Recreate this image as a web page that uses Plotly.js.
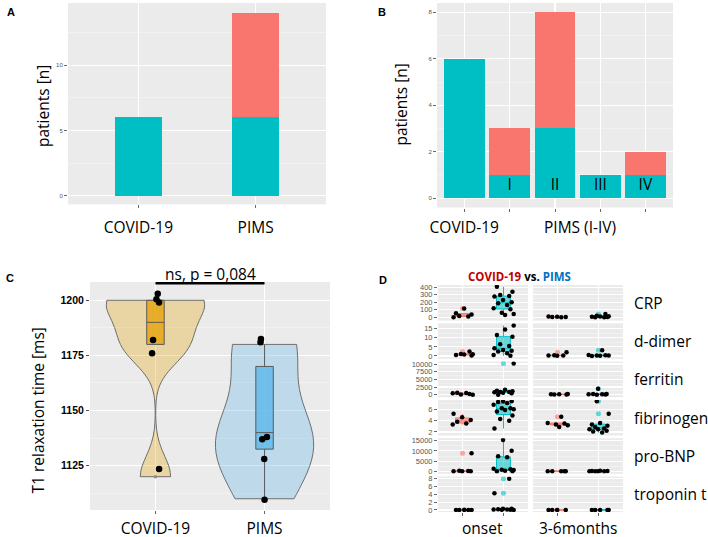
<!DOCTYPE html>
<html>
<head>
<meta charset="utf-8">
<script src="https://cdn.plot.ly/plotly-3.0.1.min.js"></script>
<style>html,body{margin:0;padding:0;background:#fff}</style>
</head>
<body>
<div id="chart" style="width:708px;height:537px"></div>
<script>
// A: patients per group
var groupsA = ['COVID-19', 'PIMS'];
var tealA = [6, 6];
var redA = [0, 8];

// B: patients per PIMS grade
var labelsB = ['COVID-19', 'I', 'II', 'III', 'IV'];
var tealB = [6, 1, 3, 1, 1];
var redB = [0, 2, 5, 0, 1];

// C: T1 relaxation time [ms]
var groupsC = ['COVID-19', 'PIMS'];
var t1Covid = [1120, 1180, 1180, 1200, 1200, 1200];
var t1Pims = [1110, 1130, 1140, 1140, 1180, 1180];
// jittered dots as they appear
var dotsCovidY = [1203, 1200.5, 1199, 1182, 1176, 1123.5];
var dotsCovidX = [1.021, 1.009, 1.033, 0.978, 0.969, 1.033];
var dotsPimsY = [1182.5, 1181, 1138, 1137, 1128, 1109.5];
var dotsPimsX = [1.967, 1.963, 2.022, 1.979, 1.997, 2.0];

// D: lab values, onset / 3-6 months
var params = ['CRP', 'd-dimer', 'ferritin', 'fibrinogen', 'pro-BNP', 'troponin t'];
var times = ['onset', '3-6months'];
var crpCovOn = [2, 10, 18, 36, 55, 118];
var crpPimsOn = [31, 45, 62, 107, 120, 164, 187, 200, 231, 276, 284, 298, 342, 409];
var crpCov36 = [1, 3, 5, 8, 12];
var crpPims36 = [0, 2, 4, 6, 10, 15, 22, 44];
var ddCovOn = [0.3, 0.5, 0.8, 1.0, 1.1, 2.4];
var ddPimsOn = [0.1, 0.5, 1.5, 2.4, 2.9, 3.3, 4.2, 5.5, 6.4, 10.6, 11.5, 14.6, 16.8];
var ddCov36 = [0.1, 0.2, 0.3, 0.4, 2.0];
var ddPims36 = [0, 0.1, 0.2, 0.3, 0.4, 0.5, 3.1];
var ferCovOn = [0, 50, 220, 430, 540, 650];
var ferPimsOn = [0, 430, 650, 800, 870, 900, 1090, 1300, 1630, 10200];
var ferCov36 = [20, 60, 100, 150, 200];
var ferPims36 = [0, 50, 100, 150, 200, 250, 1960];
var fibCovOn = [3.3, 3.5, 3.8, 4.1, 4.6, 5.2];
var fibPimsOn = [2.6, 4.0, 4.3, 4.9, 5.6, 5.9, 6.0, 6.2, 6.2, 6.8, 7.1, 7.3, 7.4, 7.4];
var fibCov36 = [2.9, 3.2, 3.3, 3.5, 3.6, 4.7];
var fibPims36 = [1.9, 2.1, 2.2, 2.5, 2.5, 2.6, 2.9, 3.1, 3.3, 3.6, 5.2, 7.4];
var bnpCovOn = [0, 50, 100, 200, 330, 8800];
var bnpPimsOn = [0, 100, 300, 650, 800, 980, 1300, 6850, 7340, 10100, 15300];
var bnpCov36 = [10, 30, 50, 80, 100];
var bnpPims36 = [20, 50, 80, 100, 150, 200, 250];
var tropCovOn = [0.01, 0.01, 0.02, 0.02, 0.03];
var tropPimsOn = [0.02, 0.05, 0.08, 0.1, 0.15, 0.2, 0.3, 0.3, 4.3, 8.0];
var tropCov36 = [0.01, 0.01, 0.01, 0.02];
var tropPims36 = [0.01, 0.01, 0.01, 0.02, 0.02];

var dRows = [
  [crpCovOn, crpPimsOn, crpCov36, crpPims36],
  [ddCovOn, ddPimsOn, ddCov36, ddPims36],
  [ferCovOn, ferPimsOn, ferCov36, ferPims36],
  [fibCovOn, fibPimsOn, fibCov36, fibPims36],
  [bnpCovOn, bnpPimsOn, bnpCov36, bnpPims36],
  [tropCovOn, tropPimsOn, tropCov36, tropPims36]
];
var dRanges = [[-44, 431], [-1.6, 17.95], [-826, 10783], [1.38, 7.66], [-1208, 16208], [-0.54, 8.55]];
var dSteps = [100, 5, 2500, 2, 5000, 2];
var jit = [-0.22, 0.14, -0.08, 0.22, -0.16, 0.04, 0.25, -0.04, 0.17, -0.24, 0.09, -0.13, 0.2, -0.01];

var TEAL = '#00BFC4', RED = '#F8766D';
var W = 708, H = 537;
function px(v) { return v / W; }
function py(v) { return 1 - v / H; }

// R type 7 quantile + ggplot-style box stats
function q7(s, p) {
  var h = (s.length - 1) * p, lo = Math.floor(h);
  var hi = Math.min(lo + 1, s.length - 1);
  return s[lo] + (h - lo) * (s[hi] - s[lo]);
}
function boxStats(v) {
  var s = v.slice().sort(function (a, b) { return a - b; });
  var q1 = q7(s, 0.25), q3 = q7(s, 0.75), iqr = q3 - q1;
  var lf = q1 - 1.5 * iqr, uf = q3 + 1.5 * iqr;
  var inside = s.filter(function (d) { return d >= lf && d <= uf; });
  return {
    q1: q1, med: q7(s, 0.5), q3: q3,
    lo: inside[0], hi: inside[inside.length - 1],
    out: s.filter(function (d) { return d < lf || d > uf; })
  };
}
function nrd0(v) {
  var s = v.slice().sort(function (a, b) { return a - b; });
  var n = s.length, m = s.reduce(function (a, b) { return a + b; }, 0) / n;
  var sd = Math.sqrt(s.reduce(function (a, b) { return a + (b - m) * (b - m); }, 0) / (n - 1));
  var lo = Math.min(sd, (q7(s, 0.75) - q7(s, 0.25)) / 1.34);
  return 0.9 * lo * Math.pow(n, -0.2);
}
function boxTrace(vals, pos, xa, ya, w, fill, line, lw) {
  var st = boxStats(vals);
  return {
    type: 'box', x: [pos], q1: [st.q1], median: [st.med], q3: [st.q3],
    lowerfence: [st.lo], upperfence: [st.hi], width: w, whiskerwidth: 0,
    fillcolor: fill, line: {color: line, width: lw}, boxpoints: false,
    xaxis: xa, yaxis: ya, hoverinfo: 'skip'
  };
}

var data = [];

// A
data.push({type: 'bar', x: [1, 2], y: tealA, width: 0.4, marker: {color: TEAL}, xaxis: 'x', yaxis: 'y', hoverinfo: 'skip'});
data.push({type: 'bar', x: [1, 2], y: redA, width: 0.4, marker: {color: RED}, xaxis: 'x', yaxis: 'y', hoverinfo: 'skip'});

// B
data.push({
  type: 'bar', x: [1, 2, 3, 4, 5], y: tealB, width: 0.9, marker: {color: TEAL},
  text: labelsB.map(function (l, i) { return i ? l : ''; }),
  textposition: 'inside', insidetextanchor: 'start', textangle: 0, constraintext: 'none',
  textfont: {family: 'Open Sans', size: 15.5, color: '#000'},
  xaxis: 'x2', yaxis: 'y2', hoverinfo: 'skip'
});
data.push({type: 'bar', x: [1, 2, 3, 4, 5], y: redB, width: 0.9, marker: {color: RED}, xaxis: 'x2', yaxis: 'y2', hoverinfo: 'skip'});

// C
[[t1Covid, 1, 'rgba(230,159,0,0.3)', 'rgba(230,159,0,0.75)'],
 [t1Pims, 2, 'rgba(86,180,233,0.3)', 'rgba(86,180,233,0.75)']].forEach(function (g) {
  data.push({
    type: 'violin', y: g[0], x0: g[1], width: 0.9, spanmode: 'hard', bandwidth: nrd0(g[0]),
    scalemode: 'count', scalegroup: 't1', points: false, box: {visible: false},
    meanline: {visible: false}, fillcolor: g[2], line: {color: '#6E6E6E', width: 1},
    xaxis: 'x3', yaxis: 'y3', hoverinfo: 'skip'
  });
  data.push(boxTrace(g[0], g[1], 'x3', 'y3', 0.16, g[3], '#5A5A5A', 1));
  var st = boxStats(g[0]);
  if (st.out.length) {
    data.push({type: 'scatter', mode: 'markers', x: st.out.map(function () { return g[1]; }), y: st.out,
      marker: {color: '#8C8C8C', size: 3.5}, xaxis: 'x3', yaxis: 'y3', hoverinfo: 'skip'});
  }
});
data.push({type: 'scatter', mode: 'markers', x: dotsCovidX.concat(dotsPimsX), y: dotsCovidY.concat(dotsPimsY),
  marker: {color: '#000', size: 6.5}, xaxis: 'x3', yaxis: 'y3', hoverinfo: 'skip'});

// D
dRows.forEach(function (row, i) {
  row.forEach(function (vals, k) {
    var col = k < 2 ? 0 : 1;
    var pos = k % 2 === 0 ? 1 : 2;
    var n = 4 + i * 2 + col;
    var xa = 'x' + n, ya = 'y' + n;
    var c = pos === 1 ? RED : TEAL;
    var rgb = pos === 1 ? '248,118,109' : '0,191,196';
    var st = boxStats(vals);
    data.push(boxTrace(vals, pos, xa, ya, 0.34, 'rgba(' + rgb + ',0.55)', c, 1));
    if (st.out.length) {
      data.push({type: 'scatter', mode: 'markers', x: st.out.map(function () { return pos; }), y: st.out,
        marker: {color: 'rgba(' + rgb + ',0.6)', size: 5}, xaxis: xa, yaxis: ya, hoverinfo: 'skip'});
    }
    data.push({type: 'scatter', mode: 'markers',
      x: vals.map(function (v, j) { return pos + jit[(j + i * 3 + k * 5) % jit.length]; }), y: vals,
      marker: {color: '#000', size: 4.5}, xaxis: xa, yaxis: ya, hoverinfo: 'skip'});
  });
});

function ax(extra) {
  var base = {showgrid: true, gridcolor: '#fff', gridwidth: 1.1, zeroline: false, showline: false,
    ticks: 'outside', ticklen: 3, tickwidth: 0.8, tickcolor: '#444', fixedrange: true};
  for (var k in extra) base[k] = extra[k];
  return base;
}
var MINOR = '#F5F5F5';
var bigFont = {family: 'Open Sans', size: 15.5, color: '#000'};
var tinyFont = {family: 'Liberation Sans', size: 6, color: '#555'};

var layout = {
  width: W, height: H, margin: {l: 0, r: 0, t: 0, b: 0},
  paper_bgcolor: '#fff', plot_bgcolor: '#EBEBEB',
  barmode: 'stack', showlegend: false,
  font: {family: 'Liberation Sans', color: '#000'},
  xaxis: ax({domain: [px(68), px(326)], anchor: 'y', range: [0.4, 2.6], tickvals: [1, 2], ticktext: groupsA,
    tickfont: bigFont, ticklabelstandoff: 6}),
  yaxis: ax({domain: [py(204.3), py(3)], anchor: 'x', range: [-0.66, 14.76], tick0: 0, dtick: 5,
    tickfont: tinyFont, minor: {tick0: 0, dtick: 2.5, showgrid: true, gridcolor: MINOR, gridwidth: 0.7}}),
  xaxis2: ax({domain: [px(437), px(673)], anchor: 'y2', range: [0.4, 5.6], tickvals: [1, 2, 3, 4, 5],
    ticktext: [labelsB[0], '', '', '', ''], tickfont: bigFont, ticklabelstandoff: 3}),
  yaxis2: ax({domain: [py(207.5), py(3)], anchor: 'x2', range: [-0.4, 8.4], tick0: 0, dtick: 2,
    tickfont: tinyFont, minor: {tick0: 0, dtick: 1, showgrid: true, gridcolor: MINOR, gridwidth: 0.7}}),
  xaxis3: ax({domain: [px(90), px(330)], anchor: 'y3', range: [0.4, 2.6], tickvals: [1, 2], ticktext: groupsC,
    tickfont: bigFont, ticklabelstandoff: 1}),
  yaxis3: ax({domain: [py(510), py(282)], anchor: 'x3', range: [1104.9, 1208.3], tickvals: [1125, 1150, 1175, 1200],
    tickfont: {family: 'Liberation Sans', size: 10.5, color: '#000', weight: 'bold'}, tickcolor: '#222',
    minor: {tickvals: [1112.5, 1137.5, 1162.5, 1187.5], showgrid: true, gridcolor: MINOR, gridwidth: 0.7}}),
  shapes: [{type: 'line', xref: 'x3', yref: 'paper', x0: 1, x1: 2, y0: py(283.3), y1: py(283.3),
    line: {color: '#000', width: 2.5}}],
  annotations: [
    {text: '<b>A</b>', x: px(10.5), y: py(12)},
    {text: '<b>B</b>', x: px(382), y: py(12)},
    {text: '<b>C</b>', x: px(10), y: py(278)},
    {text: '<b>D</b>', x: px(383), y: py(280)},
    {text: 'patients [n]', x: px(43), y: py(106), textangle: -90, font: bigFont},
    {text: 'patients [n]', x: px(400.5), y: py(105), textangle: -90, font: bigFont},
    {text: 'PIMS (I-IV)', x: px(580), y: py(227.3), font: bigFont},
    {text: 'T1 relaxation time [ms]', x: px(37.5), y: py(411), textangle: -90, font: bigFont},
    {text: 'ns, p = 0,084', x: px(210), y: py(273.5), font: bigFont},
    {text: '<b><span style="color:#C00000">COVID-19</span> vs. <span style="color:#0070C0">PIMS</span></b>',
      x: px(519), y: py(276.7), font: {family: 'Open Sans', size: 11.5, color: '#000'}}
  ].map(function (a) {
    var o = {xref: 'paper', yref: 'paper', showarrow: false, xanchor: 'center', yanchor: 'middle',
      font: {family: 'Liberation Sans', size: 11, color: '#000'}};
    for (var k in a) o[k] = a[k];
    return o;
  })
};

var colX = [[438, 528], [533, 623]];
params.forEach(function (p, i) {
  var top = 285 + i * 38.3, bot = top + 35.6;
  colX.forEach(function (cx, col) {
    var n = 4 + i * 2 + col;
    layout['xaxis' + n] = ax({domain: [px(cx[0]), px(cx[1])], anchor: 'y' + n, range: [0.4, 2.6],
      tickvals: [1, 2], showticklabels: false, ticks: i === 5 ? 'outside' : ''});
    layout['yaxis' + n] = ax({domain: [py(bot), py(top)], anchor: 'x' + n, range: dRanges[i],
      tick0: 0, dtick: dSteps[i], tickformat: 'd', showticklabels: col === 0, ticks: col === 0 ? 'outside' : '',
      tickfont: {family: 'Liberation Sans', size: 7.5, color: '#555'},
      minor: {tick0: 0, dtick: dSteps[i] / 2, showgrid: true, gridcolor: MINOR, gridwidth: 0.6}});
  });
  layout.annotations.push({text: p, xref: 'paper', yref: 'paper', x: px(631.7), y: py((top + bot) / 2),
    xanchor: 'left', yanchor: 'middle', showarrow: false, font: bigFont});
});
times.forEach(function (t, col) {
  layout.annotations.push({text: t, xref: 'paper', yref: 'paper', x: px((colX[col][0] + colX[col][1]) / 2),
    y: py(527.5), xanchor: 'center', yanchor: 'middle', showarrow: false, font: bigFont});
});

Plotly.newPlot('chart', data, layout, {displayModeBar: false, staticPlot: true});
</script>
</body>
</html>
